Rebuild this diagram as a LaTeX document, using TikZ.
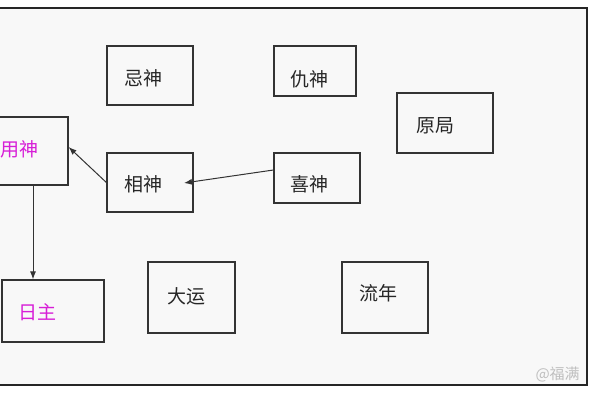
\documentclass[tikz,border=0pt]{standalone}
\usepackage{fontspec}
\usetikzlibrary{arrows.meta}
\newfontfamily\cjk{Noto Sans CJK SC}
\definecolor{mag}{RGB}{215,30,215}
\definecolor{bg}{RGB}{248,248,248}
\begin{document}
\begin{tikzpicture}[x=1pt,y=-1pt,
 box/.style={draw=black!80,line width=1.2pt,inner sep=0pt},
 lbl/.style={font=\cjk\fontsize{19}{19}\selectfont,text=black!85},
 arr/.style={draw=black!80,line width=1pt,-{Latex[length=8pt,width=6pt]}}]
\useasboundingbox (0,0) rectangle (600,400);
\fill[white] (0,0) rectangle (600,400);
\begin{scope}
\clip (0,0) rectangle (600,400);
\draw[black!85,line width=2.5pt,fill=bg] (-10,8) rectangle (587,385);
\node[box,minimum width=86pt,minimum height=59pt] (ji) at (150,75.5) {};
\node[box,minimum width=82pt,minimum height=50pt] (chou) at (315,71) {};
\node[box,minimum width=96pt,minimum height=60pt] (yuan) at (445,123) {};
\node[box,minimum width=78pt,minimum height=68pt] (yong) at (29,151) {};
\node[box,minimum width=86pt,minimum height=59pt] (xiang) at (150,182.5) {};
\node[box,minimum width=86pt,minimum height=50pt] (xi) at (317,178) {};
\node[box,minimum width=102pt,minimum height=62pt] (ri) at (53,311) {};
\node[box,minimum width=87pt,minimum height=71pt] (dayun) at (191.5,297.5) {};
\node[box,minimum width=86pt,minimum height=71pt] (liunian) at (385,297.5) {};
\node[lbl] at (143,78) {忌神};
\node[lbl] at (309,79) {仇神};
\node[lbl] at (435,126) {原局};
\node[lbl,text=mag] at (20,149) {用神};
\node[lbl] at (143,184) {相神};
\node[lbl] at (309,184) {喜神};
\node[lbl,text=mag] at (38,312) {日主};
\node[lbl] at (186,296) {大运};
\node[lbl] at (378,293) {流年};
\draw[arr] (xiang.west) -- (yong.east |- 0,147);
\draw[arr] (xi.west |- 0,170) -- (184,183);
\draw[arr] (33,185) -- (ri.north -| 33,0);
\node[font=\cjk\fontsize{15}{15}\selectfont,text=black!25,anchor=west] at (532,374) {@福满};
\end{scope}
\end{tikzpicture}
\end{document}
